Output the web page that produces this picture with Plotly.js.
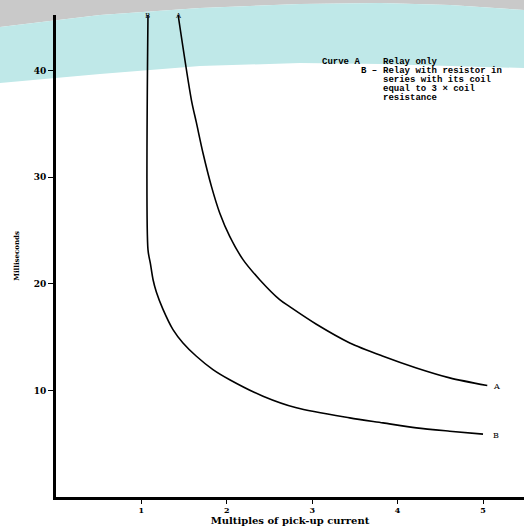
<!DOCTYPE html>
<html>
<head>
<meta charset="utf-8">
<script src="https://cdn.plot.ly/plotly-3.0.1.min.js"></script>
<style>html,body{margin:0;padding:0;background:#fff}#chart{width:524px;height:526px}</style>
</head>
<body>
<div id="chart"></div>
<script>
// Curve A: relay only
const curveA_x = [1.43, 1.585, 1.644, 1.721, 1.820, 1.917, 2.034, 2.190, 2.385, 2.619, 2.736, 3.049, 3.44, 3.83, 4.22, 4.61, 5.05];
const curveA_y = [45.2, 37.25, 35.1, 32.26, 29.13, 26.64, 24.44, 22.26, 20.38, 18.51, 17.85, 16.2, 14.45, 13.2, 12.1, 11.17, 10.45];
// Curve B: relay with resistor in series
const curveB_x = [1.077, 1.077, 1.105, 1.136, 1.176, 1.253, 1.37, 1.487, 1.644, 1.838, 2.034, 2.424, 2.815, 3.44, 3.83, 4.22, 4.61, 5.0];
const curveB_y = [45.2, 23.2, 21.9, 20.4, 19.2, 17.6, 15.7, 14.45, 13.2, 11.95, 11.0, 9.45, 8.36, 7.42, 6.95, 6.48, 6.17, 5.9];

const xTicks = [1, 2, 3, 4, 5];
const yTicks = [10, 20, 30, 40];
const legendLines = ["Relay only", "Relay with resistor in", "series with its coil", "equal to 3 × coil", "resistance"];

const F = "DejaVu Serif";
const M = "Liberation Mono";
const lineStyle = {color: "#000", width: 1.6, shape: "spline", smoothing: 0.8};

const traces = [
  {x: curveA_x, y: curveA_y, mode: "lines", line: lineStyle, hoverinfo: "skip", showlegend: false},
  {x: curveB_x, y: curveB_y, mode: "lines", line: lineStyle, hoverinfo: "skip", showlegend: false}
];

const annotations = [
  {x: curveB_x[0], y: 1.011, xref: "x", yref: "paper", text: "B", showarrow: false, font: {family: F, size: 7, color: "#000"}},
  {x: curveA_x[0], y: 1.011, xref: "x", yref: "paper", text: "A", showarrow: false, font: {family: F, size: 7, color: "#000"}},
  {x: curveA_x[curveA_x.length - 1] + 0.11, y: curveA_y[curveA_y.length - 1] - 0.1, text: "A", showarrow: false, font: {family: F, size: 8, color: "#000"}},
  {x: curveB_x[curveB_x.length - 1] + 0.15, y: curveB_y[curveB_y.length - 1] - 0.15, text: "B", showarrow: false, font: {family: F, size: 8, color: "#000"}},
  {x: 0.564, y: 0.917, xref: "paper", yref: "paper", xanchor: "left", text: "Curve A", showarrow: false, font: {family: M, size: 9, color: "#000", weight: "bold"}},
  {x: 0.69, y: 0.898, xref: "paper", yref: "paper", xanchor: "right", text: "B –", showarrow: false, font: {family: M, size: 9, color: "#000", weight: "bold"}}
];
const lineY = [0.917, 0.898, 0.880, 0.861, 0.842];
legendLines.forEach((t, i) => {
  annotations.push({x: 0.694, y: lineY[i], xref: "paper", yref: "paper", xanchor: "left", text: t, showarrow: false,
    font: {family: M, size: 9, color: "#000", weight: "bold"}});
});

const shapes = [
  {type: "path", xref: "paper", yref: "paper", layer: "below", line: {width: 0}, fillcolor: "#c9c9c9",
   path: "M -0.12,1.035 L 1.0,1.035 L 1.0,1.0104 L 0.8419,1.0207 L 0.6923,1.0249 L 0.5214,1.0228 L 0.3077,1.0145 L 0.094,1.0 L -0.12,0.9751 Z"},
  {type: "path", xref: "paper", yref: "paper", layer: "below", line: {width: 0}, fillcolor: "#bfe8e8",
   path: "M -0.12,0.9751 L 0.094,1.0 L 0.3077,1.0145 L 0.5214,1.0228 L 0.6923,1.0249 L 0.8419,1.0207 L 1.0,1.0104 L 1.0,0.89 L 0.8419,0.8942 L 0.6923,0.8983 L 0.5214,0.9004 L 0.3077,0.8942 L 0.094,0.8776 L -0.12,0.8589 Z"}
];

const layout = {
  width: 524, height: 526,
  margin: {l: 56, r: 0, t: 15, b: 29, pad: 0},
  paper_bgcolor: "#fff", plot_bgcolor: "rgba(0,0,0,0)",
  showlegend: false,
  xaxis: {
    range: [0, 5.48], tickvals: xTicks, ticktext: xTicks.map(String),
    showgrid: false, zeroline: false, showline: true, linecolor: "#000", linewidth: 2.5,
    ticks: "outside", ticklen: 4, tickwidth: 1, tickcolor: "#000",
    tickfont: {family: F, size: 8, color: "#000", weight: "bold"},
    title: {text: "Multiples of pick-up current", standoff: 4, font: {family: F, size: 10, color: "#000", weight: "bold"}}
  },
  yaxis: {
    range: [0, 45.2], tickvals: yTicks, ticktext: yTicks.map(String),
    showgrid: false, zeroline: false, showline: true, linecolor: "#000", linewidth: 3,
    ticks: "outside", ticklen: 5, tickwidth: 1, tickcolor: "#000",
    tickfont: {family: F, size: 9, color: "#000", weight: "bold"},
    title: {text: "Milliseconds", standoff: 14, font: {family: F, size: 7, color: "#000", weight: "bold"}}
  },
  annotations: annotations,
  shapes: shapes
};

Plotly.newPlot("chart", traces, layout, {displayModeBar: false, staticPlot: true});
</script>
</body>
</html>
